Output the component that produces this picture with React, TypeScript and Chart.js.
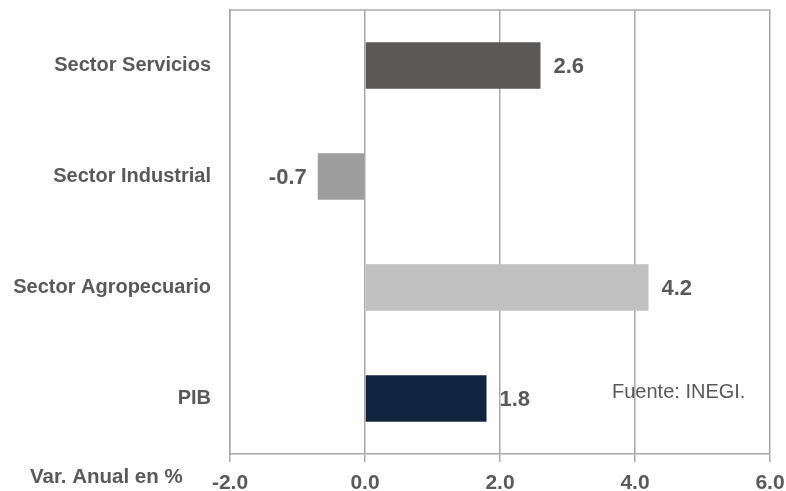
import React, { useEffect, useRef } from "react";
import { Chart, registerables } from "chart.js";

Chart.register(...registerables);

const categories = ["Sector Servicios", "Sector Industrial", "Sector Agropecuario", "PIB"];
const values = [2.6, -0.7, 4.2, 1.8];
const barColors = ["#5a5958", "#9e9e9e", "#c1c1c1", "#10243f"];
const xTicks = [-2, 0, 2, 4, 6];
const axisTitle = "Var. Anual en %";
const sourceNote = "Fuente: INEGI.";

const TEXT = "#595959";
const GRID = "#a8a8a8";
const FONT = "'Liberation Sans', Arial, sans-serif";

const overlayPlugin = {
  id: "overlay",
  afterDatasetsDraw(chart: any) {
    const ctx = chart.ctx;
    const area = chart.chartArea;
    ctx.save();
    // top border
    ctx.strokeStyle = GRID;
    ctx.lineWidth = 1.5;
    ctx.beginPath();
    ctx.moveTo(area.left, area.top);
    ctx.lineTo(area.right, area.top);
    ctx.stroke();
    // value labels
    const meta = chart.getDatasetMeta(0);
    ctx.fillStyle = TEXT;
    ctx.font = `bold 22px ${FONT}`;
    ctx.textBaseline = "middle";
    meta.data.forEach((el: any, i: number) => {
      const v = values[i];
      const txt = v.toFixed(1);
      if (v >= 0) {
        ctx.textAlign = "left";
        ctx.fillText(txt, el.x + 13, el.y + 1);
      } else {
        ctx.textAlign = "right";
        ctx.fillText(txt, el.x - 11, el.y + 1);
      }
    });
    // axis title
    ctx.textAlign = "left";
    ctx.font = `bold 20.5px ${FONT}`;
    ctx.fillText(axisTitle, 30, 477);
    // source
    ctx.font = `20px ${FONT}`;
    ctx.fillText(sourceNote, 612, 392);
    ctx.restore();
  },
};

export default function App() {
  const ref = useRef<HTMLCanvasElement | null>(null);
  useEffect(() => {
    if (!ref.current) return;
    const chart = new Chart(ref.current, {
      type: "bar",
      data: {
        labels: categories,
        datasets: [
          {
            data: values,
            backgroundColor: barColors,
            borderWidth: 0,
            categoryPercentage: 1,
            barPercentage: 0.42,
          },
        ],
      },
      options: {
        indexAxis: "y",
        animation: false,
        responsive: true,
        maintainAspectRatio: false,
        layout: { padding: { top: 10, right: 16, left: 0, bottom: 0 } },
        plugins: { legend: { display: false }, tooltip: { enabled: false } },
        scales: {
          x: {
            type: "linear",
            min: -2,
            max: 6,
            afterBuildTicks: (scale: any) => {
              scale.ticks = xTicks.map((v) => ({ value: v }));
            },
            afterFit: (scale: any) => {
              scale.height = 37;
              scale.paddingLeft = 0;
              scale.paddingRight = 0;
            },
            grid: { color: GRID, lineWidth: 1.5, tickLength: 8, drawTicks: true },
            border: { display: true, color: GRID, width: 1.5 },
            ticks: {
              color: TEXT,
              font: { family: FONT, size: 21, weight: "bold" },
              padding: 9,
              maxRotation: 0,
              callback: (v: any) => Number(v).toFixed(1),
            },
          },
          y: {
            type: "category",
            afterFit: (scale: any) => {
              scale.width = 230;
              scale.paddingTop = 0;
              scale.paddingBottom = 0;
            },
            grid: { display: false, drawTicks: false },
            border: { display: true, color: GRID, width: 1.5 },
            ticks: {
              color: TEXT,
              font: { family: FONT, size: 20, weight: "bold" },
              padding: 19,
            },
          },
        },
      },
      plugins: [overlayPlugin],
    } as any);
    return () => chart.destroy();
  }, []);
  return (
    <div style={{ position: "absolute", left: 0, top: 0, width: 786, height: 491, background: "#fff" }}>
      <canvas ref={ref} />
    </div>
  );
}
